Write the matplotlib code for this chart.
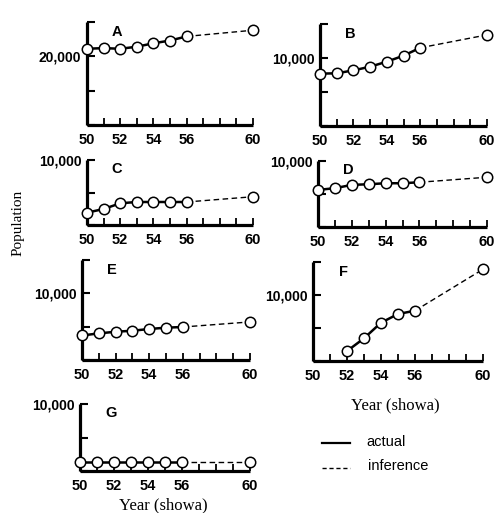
import matplotlib
matplotlib.use("Agg")
import matplotlib.pyplot as plt

W, H = 496, 513

# data (population by year, showa era)
years_actual = [50, 51, 52, 53, 54, 55, 56]
years_f = [52, 53, 54, 55, 56]
year_infer = 60

pop_a = [21100, 21200, 21100, 21400, 21900, 22300, 22900]
pop_a_60 = 23800
pop_b = [7700, 7750, 8180, 8720, 9460, 10340, 11500]
pop_b_60 = 13400
pop_c = [1900, 2460, 3340, 3540, 3540, 3540, 3540]
pop_c_60 = 4350
pop_d = [5620, 5880, 6380, 6480, 6630, 6630, 6780]
pop_d_60 = 7540
pop_e = [3680, 3990, 4240, 4390, 4650, 4850, 4950]
pop_e_60 = 5710
pop_f = [1500, 3440, 5800, 7120, 7620]
pop_f_60 = 13900
pop_g = [1300, 1300, 1300, 1300, 1300, 1300, 1300]
pop_g_60 = 1300

xtick_labels = [50, 52, 54, 56, 60]

# (name, years, values, value at 60, ylim, labelled tick, pixel box l, r, top, bottom, letter offset)
panels = [
    ("A", years_actual, pop_a, pop_a_60, (10000, 25000), 20000, (87, 253, 22, 125)),
    ("B", years_actual, pop_b, pop_b_60, (0, 15000), 10000, (320, 487, 24, 126)),
    ("C", years_actual, pop_c, pop_c_60, (0, 10000), 10000, (87, 253, 160, 225)),
    ("D", years_actual, pop_d, pop_d_60, (0, 10000), 10000, (318, 487, 161, 227)),
    ("E", years_actual, pop_e, pop_e_60, (0, 15000), 10000, (82, 250, 260, 360)),
    ("F", years_f, pop_f, pop_f_60, (0, 15000), 10000, (313, 483, 262, 361)),
    ("G", years_actual, pop_g, pop_g_60, (0, 10000), 10000, (80, 250, 404, 471)),
]

sans = "Liberation Sans"
serif = "Liberation Serif"

fig = plt.figure(figsize=(W / 100, H / 100), dpi=100)

for name, yrs, vals, v60, ylim, lab, (l, r, t, b) in panels:
    ax = fig.add_axes([l / W, 1 - b / H, (r - l) / W, (b - t) / H])
    ax.plot([yrs[-1], year_infer], [vals[-1], v60], color="black", lw=1.0,
            ls=(0, (4, 2.5)), zorder=2, clip_on=False)
    ax.plot(yrs, vals, color="black", lw=1.8, zorder=3, clip_on=False)
    ax.plot(yrs + [year_infer], vals + [v60], ls="none", marker="o", ms=7.5,
            mfc="white", mec="black", mew=1.1, zorder=4, clip_on=False)
    ax.set_xlim(50, 60)
    ax.set_ylim(*ylim)
    for s in ["top", "right"]:
        ax.spines[s].set_visible(False)
    for s in ["left", "bottom"]:
        ax.spines[s].set_linewidth(2.3)
        ax.spines[s].set_capstyle("butt")
    ax.set_xticks(range(50, 61))
    ax.set_xticklabels([str(y) if y in xtick_labels else "" for y in range(50, 61)],
                       fontfamily=sans, fontweight="bold", fontsize=10.5)
    yt = list(range(ylim[0], ylim[1] + 1, 5000))
    ax.set_yticks(yt)
    ax.set_yticklabels([f"{v:,}" if v == lab else "" for v in yt],
                       fontfamily=sans, fontweight="bold", fontsize=10)
    ax.tick_params(axis="x", direction="in", length=5, width=1.3, pad=6)
    ax.tick_params(axis="y", direction="in", length=6, width=1.5, pad=4)
    ax.patch.set_visible(False)
    ax.text(0.18, 0.97, name, transform=ax.transAxes, ha="center", va="top",
            fontfamily=sans, fontweight="bold", fontsize=10.5)

# axis titles
fig.text(18 / W, 1 - 223 / H, "Population", rotation=90, ha="center", va="center",
         fontfamily=serif, fontsize=11)
fig.text(395 / W, 1 - 405 / H, "Year (showa)", ha="center", va="center",
         fontfamily=serif, fontsize=12)
fig.text(163 / W, 1 - 505 / H, "Year (showa)", ha="center", va="center",
         fontfamily=serif, fontsize=12)

# legend
fig.add_artist(plt.Line2D([322 / W, 350 / W], [1 - 443 / H, 1 - 443 / H],
                          color="black", lw=1.6))
fig.add_artist(plt.Line2D([322 / W, 350 / W], [1 - 468 / H, 1 - 468 / H],
                          color="black", lw=1.0, ls=(0, (3, 2))))
fig.text(366 / W, 1 - 442 / H, "actual", ha="left", va="center",
         fontfamily=sans, fontsize=10.5)
fig.text(368 / W, 1 - 466 / H, "inference", ha="left", va="center",
         fontfamily=sans, fontsize=10.5)

fig.savefig("out.png", dpi=100)
